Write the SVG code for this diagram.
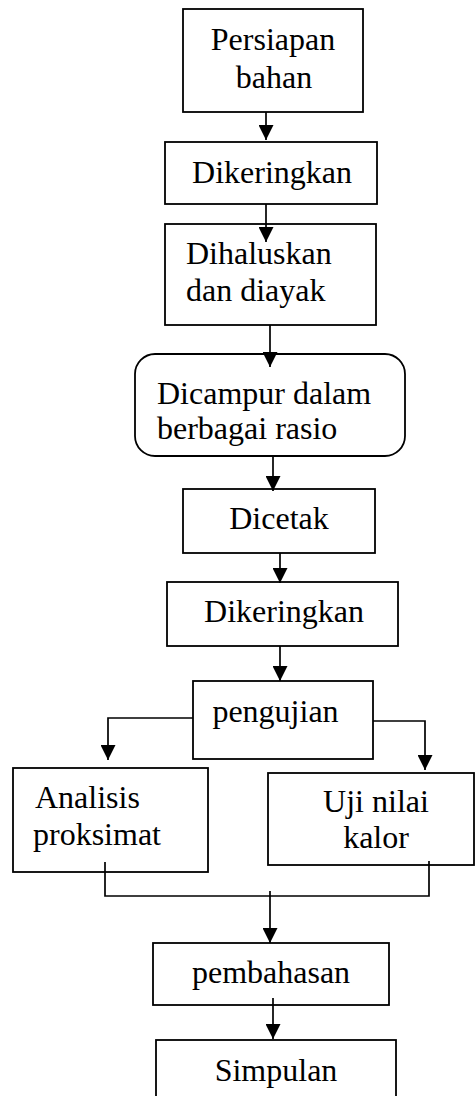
<svg xmlns="http://www.w3.org/2000/svg" width="475" height="1096" viewBox="0 0 475 1096">
<style>
.box{fill:#fff;stroke:#000;stroke-width:1.8}
.t{font-family:"Liberation Serif","Times New Roman",serif;font-size:32px;fill:#000}
.c{text-anchor:middle}
.ln{fill:none;stroke:#000;stroke-width:1.7}
.ar{marker-end:url(#ah)}
</style>
<defs>
<marker id="ah" viewBox="0 0 14 14" refX="14" refY="7" markerWidth="15" markerHeight="15" markerUnits="userSpaceOnUse" orient="auto">
<path d="M0,0 L14,7 L0,14 z" fill="#000"/>
</marker>
</defs>
<rect width="475" height="1096" fill="#fff"/>
<g id="n1"><rect class="box" x="183" y="9" width="180" height="103"/>
<text class="t c" x="273" y="50">Persiapan</text><text class="t c" x="274" y="88">bahan</text></g>
<g id="n2"><rect class="box" x="165" y="142" width="212" height="62"/>
<text class="t c" x="272" y="183">Dikeringkan</text></g>
<g id="n3"><rect class="box" x="165" y="224" width="211" height="101"/>
<text class="t" x="186" y="264">Dihaluskan</text><text class="t" x="186" y="301">dan diayak</text></g>
<g id="n4"><rect class="box" x="135" y="354" width="270" height="102" rx="20" ry="20"/>
<text class="t" x="157" y="404">Dicampur dalam</text><text class="t" x="157" y="439">berbagai rasio</text></g>
<g id="n5"><rect class="box" x="183" y="489" width="192" height="64"/>
<text class="t c" x="279" y="529">Dicetak</text></g>
<g id="n6"><rect class="box" x="167" y="582" width="231" height="64"/>
<text class="t c" x="284" y="622">Dikeringkan</text></g>
<g id="n7"><rect class="box" x="193" y="681" width="180" height="78"/>
<text class="t c" x="275.5" y="722">pengujian</text></g>
<g id="n8"><rect class="box" x="13" y="768" width="195" height="104"/>
<text class="t" x="35" y="808">Analisis</text><text class="t" x="33" y="845">proksimat</text></g>
<g id="n9"><rect class="box" x="268" y="773" width="206" height="92"/>
<text class="t c" x="376" y="812">Uji nilai</text><text class="t c" x="376" y="848">kalor</text></g>
<g id="n10"><rect class="box" x="153" y="943" width="236" height="62"/>
<text class="t c" x="271" y="983">pembahasan</text></g>
<g id="n11"><rect class="box" x="156" y="1040" width="240" height="70"/>
<text class="t c" x="276" y="1081">Simpulan</text></g>
<g id="connectors">
<path class="ln ar" d="M266,112 V140"/>
<path class="ln ar" d="M266,204 V242"/>
<path class="ln ar" d="M270,325 V367"/>
<path class="ln ar" d="M273,456 V491"/>
<path class="ln ar" d="M280,553 V583"/>
<path class="ln ar" d="M280,646 V681"/>
<path class="ln ar" d="M193,718 H108 V760"/>
<path class="ln ar" d="M373,721 H425 V770"/>
<path class="ln" d="M105,862 V896 H429 V861"/>
<path class="ln ar" d="M270,891 V943"/>
<path class="ln ar" d="M273,998 V1039"/>
</g>
</svg>
